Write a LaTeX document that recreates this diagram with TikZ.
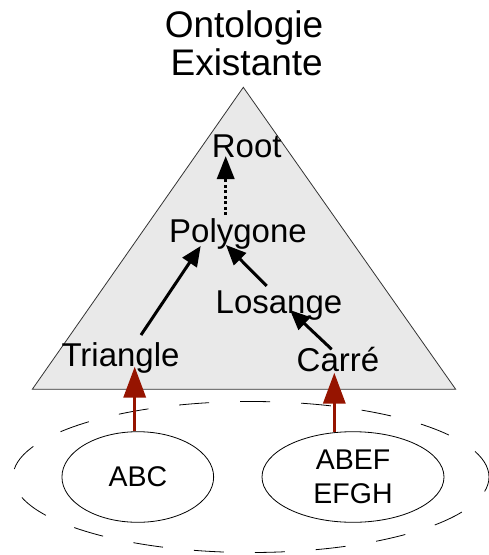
\documentclass[tikz,border=0pt]{standalone}
\usepackage{fontspec}
\setmainfont{Liberation Sans}
\usetikzlibrary{arrows.meta,shapes.geometric,calc}
\definecolor{onto}{RGB}{233,233,233}
\definecolor{redarrow}{RGB}{150,20,0}
\begin{document}
\begin{tikzpicture}[x=1pt,y=-1pt,
  lbl/.style={font=\fontsize{33}{38}\selectfont, inner sep=0pt, anchor=base},
  ttl/.style={font=\fontsize{37}{40}\selectfont, inner sep=0pt, anchor=base},
  inst/.style={ellipse, draw, line width=0.8pt, inner sep=0pt, minimum height=90.6pt,
     font=\fontsize{28.5}{34}\selectfont, align=center},
  isa/.style={line width=3pt, -{Triangle[length=20pt,width=17pt]}},
  dotisa/.style={line width=3.5pt, dash pattern=on 3pt off 2.5pt, -{Triangle[length=23pt,width=17pt]}},
  redisa/.style={draw=redarrow, line width=3.5pt, -{Triangle[length=31pt,width=22pt]}, redarrow},
  group/.style={ellipse, draw, dash pattern=on 30pt off 31pt, line width=0.8pt, inner sep=0pt}
]
\useasboundingbox (0,0) rectangle (489,555);
% ontology triangle
\path[fill=onto, draw=black!80, line width=0.8pt] (243.3,87.3) -- (32.3,389.3) -- (455.7,389.3) -- cycle;
% titles
\node[ttl] (t1) at (244,37.3) {Ontologie};
\node[ttl] (t2) at (246.7,75.7) {Existante};
% concepts
\node[lbl] (root) at (246.7,157) {Root};
\node[lbl] (poly) at (238,242) {Polygone};
\node[lbl] (los) at (279,313) {Losange};
\node[lbl] (tri) at (120.5,366.7) {Triangle};
\node[lbl] (car) at (338,371.7) {Carré};
% instances
\node[group, minimum width=476pt, minimum height=151pt] (grp) at (251,477) {};
\node[inst, minimum width=151.7pt] (abc) at (137.8,477) {ABC};
\node[inst, minimum width=182pt] (abef) at (353,477) {ABEF\\EFGH};
% arrows
\draw[isa] ($(tri.base)+(20.5,-31.7)$) -- ($(poly.base)+(-37.3,4)$);
\draw[isa] ($(los.base)+(-12.3,-27)$) -- ($(poly.base)+(-12,3)$);
\draw[isa] ($(car.base)+(-6.3,-22.4)$) -- ($(los.base)+(11,-3)$);
\draw[dotisa] ($(poly.base)+(-12.3,-27)$) -- ($(root.base)+(-21,-1)$);
\draw[redisa] ($(abc.north)+(-3.1,0)$) -- ($(tri.base)+(14.2,0)$);
\draw[redisa] ($(abef.north)+(-18.7,1)$) -- ($(car.base)+(-3.7,1)$);
\end{tikzpicture}
\end{document}
